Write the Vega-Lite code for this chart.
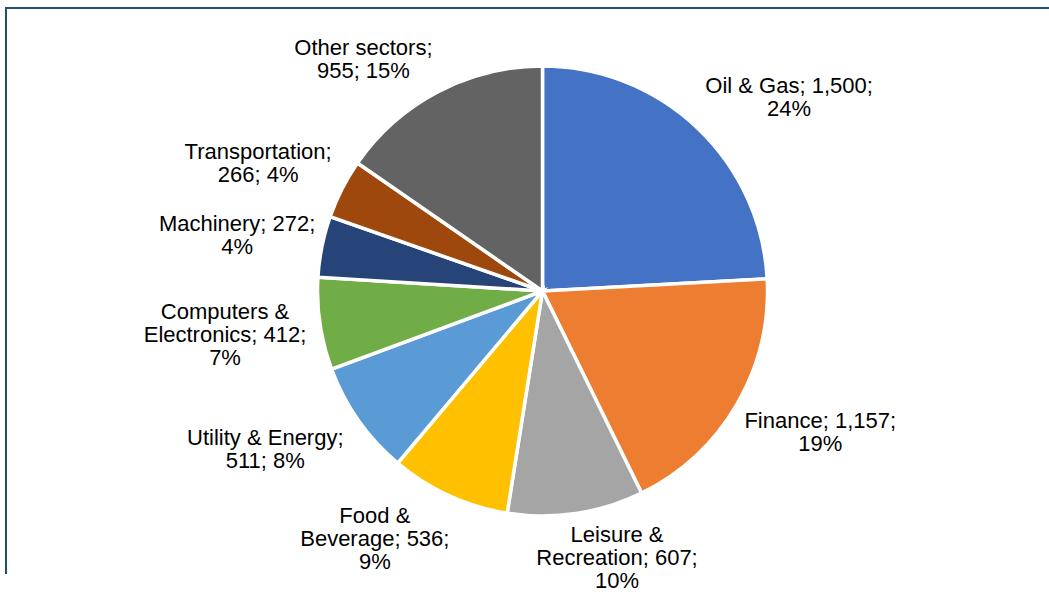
{
  "$schema": "https://vega.github.io/schema/vega-lite/v6.json",
  "width": 1073,
  "height": 566,
  "autosize": {"type": "none"},
  "padding": {"left": 6, "top": 8, "right": 0, "bottom": 32},
  "background": "white",
  "view": {"stroke": "#1F4E79", "strokeWidth": 2, "strokeDash": [1073, 1639, 700]},
  "data": {"values": [
    {"idx": 1, "sector": "Oil & Gas", "value": 1500, "label": "Oil & Gas; 1,500;\n24%"},
    {"idx": 2, "sector": "Finance", "value": 1157, "label": "Finance; 1,157;\n19%"},
    {"idx": 3, "sector": "Leisure & Recreation", "value": 607, "label": "Leisure &\nRecreation; 607;\n10%"},
    {"idx": 4, "sector": "Food & Beverage", "value": 536, "label": "Food &\nBeverage; 536;\n9%"},
    {"idx": 5, "sector": "Utility & Energy", "value": 511, "label": "Utility & Energy;\n511; 8%"},
    {"idx": 6, "sector": "Computers & Electronics", "value": 412, "label": "Computers &\nElectronics; 412;\n7%"},
    {"idx": 7, "sector": "Machinery", "value": 272, "label": "Machinery; 272;\n4%"},
    {"idx": 8, "sector": "Transportation", "value": 266, "label": "Transportation;\n266; 4%"},
    {"idx": 9, "sector": "Other sectors", "value": 955, "label": "Other sectors;\n955; 15%"}
  ]},
  "encoding": {
    "theta": {"field": "value", "type": "quantitative", "stack": true},
    "order": {"field": "idx", "type": "quantitative"}
  },
  "layer": [
    {
      "mark": {"type": "arc", "outerRadius": 225, "stroke": "white", "strokeWidth": 3.5},
      "encoding": {
        "color": {
          "field": "sector", "type": "nominal", "sort": null, "legend": null,
          "scale": {
            "domain": ["Oil & Gas", "Finance", "Leisure & Recreation", "Food & Beverage", "Utility & Energy", "Computers & Electronics", "Machinery", "Transportation", "Other sectors"],
            "range": ["#4472C4", "#ED7D31", "#A5A5A5", "#FFC000", "#5B9BD5", "#70AD47", "#264478", "#9E480E", "#636363"]
          }
        }
      }
    },
    {
      "mark": {
        "type": "text", "radius": 235, "font": "Liberation Sans", "fontSize": 22, "lineHeight": 23,
        "lineBreak": "\n", "align": "center", "baseline": "middle", "color": "#000000",
        "dx": {"expr": "clamp(sin(scale('theta', 0.5*datum.value_start + 0.5*datum.value_end))/0.3, -1, 1) * 5 * max(length(split(datum.label,'\\n')[0]), length(split(datum.label,'\\n')[1] || ''), length(split(datum.label,'\\n')[2] || ''))"},
        "dy": {"expr": "clamp(-cos(scale('theta', 0.5*datum.value_start + 0.5*datum.value_end))/0.5, -1, 1) * 11.5 * length(split(datum.label,'\\n')) - 11.5 * (length(split(datum.label,'\\n')) - 1)"}
      },
      "encoding": {
        "text": {"field": "label", "type": "nominal"}
      }
    }
  ]
}
